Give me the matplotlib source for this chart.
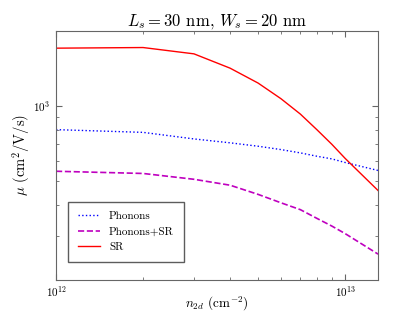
import matplotlib
matplotlib.use("Agg")
import matplotlib.pyplot as plt
from matplotlib.ticker import NullFormatter

plt.rcParams['font.family'] = 'serif'
plt.rcParams['font.serif'] = ['cmr10', 'DejaVu Serif']
plt.rcParams['mathtext.fontset'] = 'cm'
plt.rcParams['axes.formatter.use_mathtext'] = True

# carrier density (cm^-2) and mobilities (cm^2/V/s)
n2d = [1e12, 2e12, 3e12, 4e12, 5e12, 6e12, 7e12, 8e12, 9e12, 1e13, 1.3e13]
mu_phonons = [802, 782, 736, 710, 688, 667, 647, 627, 612, 592, 550]
mu_phonons_sr = [546, 535, 507, 480, 441, 408, 383, 353, 329, 307, 254]
mu_sr = [1702, 1712, 1615, 1415, 1233, 1067, 926, 800, 700, 615, 457]

fig = plt.figure(figsize=(4.15, 3.12), dpi=100)
ax = fig.add_axes([0.135, 0.1026, 0.776, 0.799])

ax.plot(n2d, mu_phonons, color='b', linestyle=':', linewidth=1.0, label='Phonons')
ax.plot(n2d, mu_phonons_sr, color='m', linestyle='--', linewidth=1.2, label='Phonons+SR')
ax.plot(n2d, mu_sr, color='r', linestyle='-', linewidth=1.0, label='SR')

ax.set_xscale('log')
ax.set_yscale('log')
ax.set_xlim(1e12, 1.3e13)
ax.set_ylim(200, 2000)
ax.xaxis.set_minor_formatter(NullFormatter())
ax.yaxis.set_minor_formatter(NullFormatter())

ax.tick_params(which='both', direction='in', top=True, right=True, labelsize=8, color='0.4')
ax.tick_params(which='major', length=4, pad=4)
ax.tick_params(axis='x', which='major', pad=3)
ax.tick_params(which='minor', length=2)
for s in ax.spines.values():
    s.set_color('0.4')

ax.set_title(r'$L_s = 30$ nm, $W_s = 20$ nm', fontsize=12, pad=4)
ax.set_xlabel(r'$n_{2d}$ (cm$^{-2}$)', fontsize=9.5)
ax.xaxis.set_label_coords(0.5, -0.058)
ax.set_ylabel(r'$\mu$ (cm$^2$/V/s)', fontsize=10.5, labelpad=1)

leg = ax.legend(loc='lower left', fontsize=8, fancybox=False, borderpad=0.9,
                bbox_to_anchor=(0.02, 0.05))
leg.get_frame().set_edgecolor('0.2')

fig.savefig('out.png', dpi=100)
